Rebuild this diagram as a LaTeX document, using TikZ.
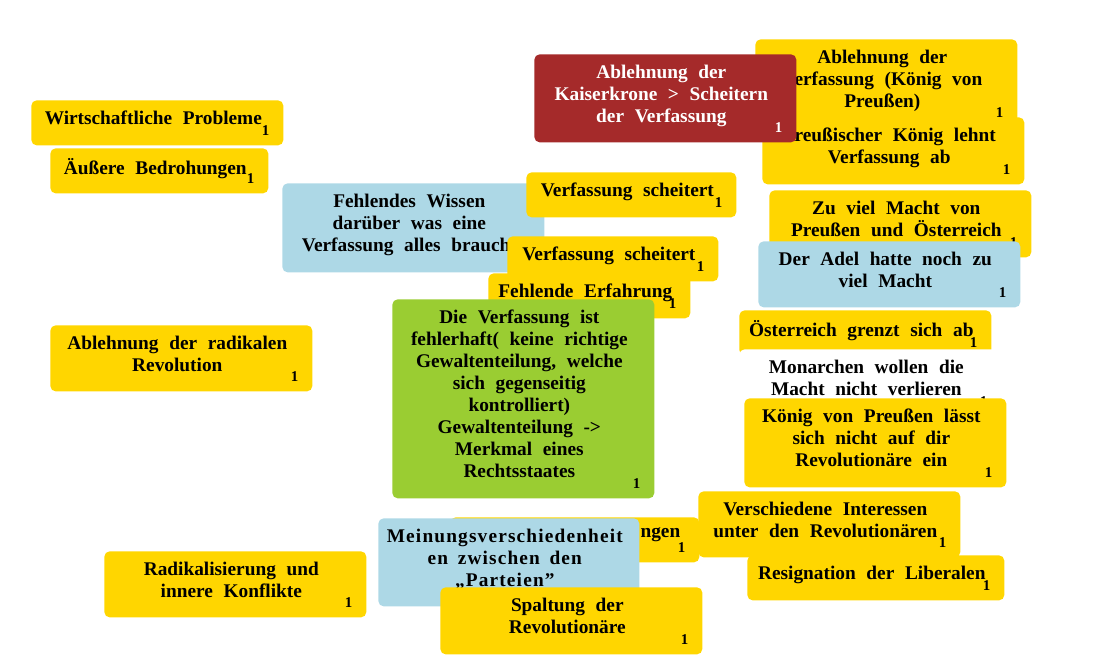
\documentclass[tikz,border=0pt]{standalone}
\usepackage{fontspec}
\setmainfont{Liberation Serif}[WordSpace=2.2]
\newfontfamily\spacedfont{Liberation Serif}[LetterSpace=6,WordSpace=1.6]

\definecolor{notegold}{HTML}{FFD600}
\definecolor{notered}{HTML}{A52A2A}
\definecolor{noteblue}{HTML}{ADD8E6}
\definecolor{notegreen}{HTML}{9ACD32}

\tikzset{
  card/.style={rectangle, rounded corners=3pt, anchor=north west, inner sep=0pt, minimum width=5.24cm},
  yellowcard/.style={card, fill=notegold},
  redcard/.style={card, fill=notered},
  bluecard/.style={card, fill=noteblue},
  greencard/.style={card, fill=notegreen},
  whitecard/.style={card, fill=white},
  cardtext/.style={anchor=north, align=center, inner sep=0pt, font=\fontsize{11}{12.5}\selectfont\bfseries, xshift=-0.08cm, yshift=-0.21cm},
  count/.style={anchor=base east, inner sep=0pt, font=\fontsize{8.5}{10}\selectfont\bfseries, xshift=-0.28cm, yshift=0.2cm},
}

\begin{document}
\begin{tikzpicture}[x=0.02cm, y=-0.02cm]
    \useasboundingbox (0,0) rectangle (1093,656);

    % left column
    \node (probleme) [yellowcard, minimum width=5.04cm, minimum height=0.9cm] at (31,100) {};
    \node [cardtext] at (probleme.north) {Wirtschaftliche Probleme};
    \node [count] at (probleme.south east) {1};

    \node (bedrohung) [yellowcard, minimum width=4.36cm, minimum height=0.9cm] at (50,148) {};
    \node [cardtext] at (bedrohung.north) {Äußere Bedrohungen};
    \node [count] at (bedrohung.south east) {1};

    \node (radikal) [yellowcard, minimum height=1.32cm] at (50,325) {};
    \node [cardtext] at (radikal.north) {Ablehnung der radikalen\\Revolution};
    \node [count] at (radikal.south east) {1};

    \node (konflikte) [yellowcard, minimum height=1.32cm] at (104,551) {};
    \node [cardtext] at (konflikte.north) {Radikalisierung und\\innere Konflikte};
    \node [count] at (konflikte.south east) {1};

    % middle
    \node (wissen) [bluecard, minimum height=1.78cm] at (282,183) {};
    \node [cardtext] at (wissen.north) {Fehlendes Wissen\\darüber was eine\\Verfassung alles braucht};

    \node (scheitert1) [yellowcard, minimum width=4.2cm, minimum height=0.9cm] at (526,172) {};
    \node [cardtext] at (scheitert1.north) {Verfassung scheitert};
    \node [count] at (scheitert1.south east) {1};

    \node (scheitert2) [yellowcard, minimum width=4.22cm, minimum height=0.9cm] at (507,236) {};
    \node [cardtext] at (scheitert2.north) {Verfassung scheitert};
    \node [count] at (scheitert2.south east) {1};

    \node (erfahrung) [yellowcard, minimum width=4.04cm, minimum height=0.9cm] at (488,273) {};
    \node [cardtext] at (erfahrung.north) {Fehlende Erfahrung};
    \node [count] at (erfahrung.south east) {1};

    \node (gewalt) [greencard, minimum height=3.98cm] at (392,299) {};
    \node [cardtext] at (gewalt.north) {Die Verfassung ist\\fehlerhaft( keine richtige\\Gewaltenteilung, welche\\sich gegenseitig\\kontrolliert)\\Gewaltenteilung ->\\Merkmal eines\\Rechtsstaates};
    \node [count] at (gewalt.south east) {1};

    \node (spannung) [yellowcard, minimum width=4.98cm, minimum height=0.9cm] at (450,517) {};
    \node [cardtext, anchor=north east] at ([xshift=-0.3cm]spannung.north east) {ngen};
    \node [count] at (spannung.south east) {1};

    \node (meinung) [bluecard, minimum width=5.22cm, minimum height=1.76cm] at (378,518) {};
    \node [cardtext, font=\fontsize{11}{12.5}\spacedfont\bfseries] at (meinung.north) {Meinungsverschiedenheit\\en zwischen den\\„Parteien”};

    \node (spaltung) [yellowcard, minimum height=1.34cm] at (440,587) {};
    \node [cardtext] at (spaltung.north) {Spaltung der\\Revolutionäre};
    \node [count] at (spaltung.south east) {1};

    % right column
    \node (ablehnung) [yellowcard, minimum height=1.76cm] at (755,39) {};
    \node [cardtext] at (ablehnung.north) {Ablehnung der\\Verfassung (König von\\Preußen)};
    \node [count] at (ablehnung.south east) {1};

    \node (koenig) [yellowcard, minimum height=1.34cm] at (762,117) {};
    \node [cardtext] at (koenig.north) {Preußischer König lehnt\\Verfassung ab};
    \node [count] at (koenig.south east) {1};

    \node (krone) [redcard, minimum height=1.76cm] at (534,54) {};
    \node [cardtext, text=white] at (krone.north) {Ablehnung der\\Kaiserkrone > Scheitern\\der Verfassung};
    \node [count, text=white] at (krone.south east) {1};

    \node (macht) [yellowcard, minimum height=1.34cm] at (769,190) {};
    \node [cardtext] at (macht.north) {Zu viel Macht von\\Preußen und Österreich};
    \node [count] at (macht.south east) {1};

    \node (adel) [bluecard, minimum height=1.32cm] at (758,241) {};
    \node [cardtext] at (adel.north) {Der Adel hatte noch zu\\viel Macht};
    \node [count] at (adel.south east) {1};

    \node (oesterreich) [yellowcard, minimum width=5.04cm, minimum height=0.9cm] at (739,310) {};
    \node [cardtext] at (oesterreich.north) {Österreich grenzt sich ab};
    \node [count, yshift=-0.04cm] at (oesterreich.south east) {1};

    \node (monarchen) [whitecard, minimum height=1.34cm] at (739,349) {};
    \node [cardtext] at (monarchen.north) {Monarchen wollen die\\Macht nicht verlieren};
    \node [count] at (monarchen.south east) {1};

    \node (preussen) [yellowcard, minimum height=1.78cm] at (744,398) {};
    \node [cardtext] at (preussen.north) {König von Preußen lässt\\sich nicht auf dir\\Revolutionäre ein};
    \node [count] at (preussen.south east) {1};

    \node (interessen) [yellowcard, minimum height=1.32cm] at (698,491) {};
    \node [cardtext] at (interessen.north) {Verschiedene Interessen\\unter den Revolutionären};
    \node [count] at (interessen.south east) {1};

    \node (resignation) [yellowcard, minimum width=5.14cm, minimum height=0.9cm] at (747,555) {};
    \node [cardtext] at (resignation.north) {Resignation der Liberalen};
    \node [count] at (resignation.south east) {1};
\end{tikzpicture}
\end{document}
